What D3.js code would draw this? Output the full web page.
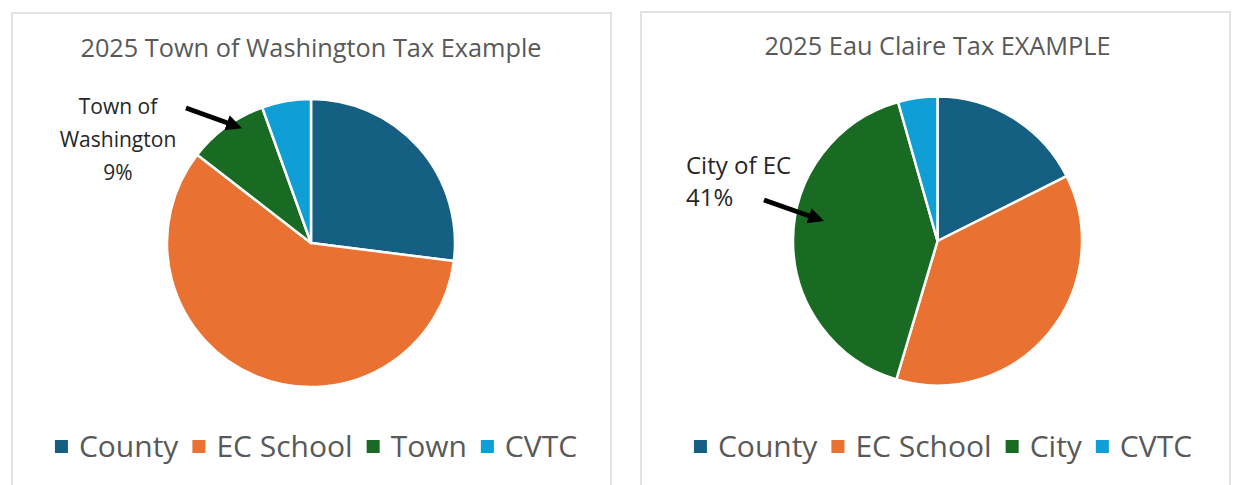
<!DOCTYPE html>
<html>
<head>
<meta charset="utf-8">
<script src="https://cdn.jsdelivr.net/npm/d3@7"></script>
<style>
  html, body { margin: 0; padding: 0; background: #ffffff; }
  svg { display: block; }
  text { font-family: "Open Sans", "Noto Sans", sans-serif; }
</style>
</head>
<body>
<svg id="chart" width="1238" height="485"></svg>
<script>
// Tax share breakdowns (percent of total bill)
const townCategories = ["County", "EC School", "Town", "CVTC"];
const townValues = [27, 58.5, 9, 5.5];

const cityCategories = ["County", "EC School", "City", "CVTC"];
const cityValues = [17.6, 37, 41, 4.4];

const titles = ["2025 Town of Washington Tax Example", "2025 Eau Claire Tax EXAMPLE"];
const calloutNames = [["Town of", "Washington"], ["City of EC"]];
const calloutIndex = [2, 2];

const palette = ["#156082", "#E97132", "#196B24", "#0F9ED5"];

const svg = d3.select("#chart");

const defs = svg.append("defs");
defs.append("marker")
  .attr("id", "arrowhead")
  .attr("viewBox", "0 0 10 10")
  .attr("refX", 6).attr("refY", 5)
  .attr("markerWidth", 3.2).attr("markerHeight", 3.6)
  .attr("orient", "auto")
  .append("path")
  .attr("d", "M0,0 L10,5 L0,10 Z")
  .attr("fill", "#000");

const panels = [
  {
    box: { x: 12, y: 13, w: 599, h: 500 },
    cx: 311, cy: 243, r: 144,
    title: titles[0], titleY: 57,
    cats: townCategories, vals: townValues,
    callout: { names: calloutNames[0], idx: calloutIndex[0], x: 118, y: 114, anchor: "middle",
               size: 21, gap: 33,
               arrow: [[186, 108], [236, 126]] },
    legendCx: 316
  },
  {
    box: { x: 641, y: 12, w: 589, h: 500 },
    cx: 937.5, cy: 241, r: 144.5,
    title: titles[1], titleY: 55,
    cats: cityCategories, vals: cityValues,
    callout: { names: calloutNames[1], idx: calloutIndex[1], x: 686, y: 174, anchor: "start",
               size: 24, gap: 32,
               arrow: [[764, 200], [818, 219]] },
    legendCx: 943
  }
];

const pie = d3.pie().sort(null).value(d => d);

panels.forEach(p => {
  const g = svg.append("g");

  g.append("rect")
    .attr("x", p.box.x).attr("y", p.box.y)
    .attr("width", p.box.w).attr("height", p.box.h)
    .attr("fill", "#ffffff")
    .attr("stroke", "#d9d9d9")
    .attr("stroke-width", 1.5);

  g.append("text")
    .attr("x", p.cx).attr("y", p.titleY)
    .attr("text-anchor", "middle")
    .attr("font-size", 25.3)
    .attr("fill", "#595959")
    .text(p.title);

  const arc = d3.arc().innerRadius(0).outerRadius(p.r);
  const color = d3.scaleOrdinal().domain(p.cats).range(palette);

  g.append("g")
    .attr("transform", `translate(${p.cx},${p.cy})`)
    .selectAll("path")
    .data(pie(p.vals))
    .join("path")
    .attr("d", arc)
    .attr("fill", (d, i) => color(p.cats[i]))
    .attr("stroke", "#ffffff")
    .attr("stroke-width", 2.5)
    .attr("stroke-linejoin", "round");

  // Callout label for the municipal share
  const c = p.callout;
  const lines = c.names.concat([`${Math.round(p.vals[c.idx])}%`]);
  const label = g.append("text")
    .attr("font-size", c.size)
    .attr("fill", "#262626")
    .attr("text-anchor", c.anchor);
  lines.forEach((t, i) => {
    label.append("tspan")
      .attr("x", c.x)
      .attr("y", c.y + i * c.gap)
      .text(t);
  });

  g.append("line")
    .attr("x1", c.arrow[0][0]).attr("y1", c.arrow[0][1])
    .attr("x2", c.arrow[1][0]).attr("y2", c.arrow[1][1])
    .attr("stroke", "#000")
    .attr("stroke-width", 5)
    .attr("marker-end", "url(#arrowhead)");

  // Legend
  const leg = g.append("g");
  const items = leg.selectAll("g")
    .data(p.cats)
    .join("g");
  items.append("rect")
    .attr("width", 13).attr("height", 13)
    .attr("y", 440)
    .attr("fill", d => color(d));
  items.append("text")
    .attr("x", 24)
    .attr("y", 457)
    .attr("font-size", 30)
    .attr("fill", "#595959")
    .text(d => d);

  let x = 0;
  const offsets = [];
  items.each(function () {
    offsets.push(x);
    const w = d3.select(this).select("text").node().getComputedTextLength();
    x += 24 + w + 14;
  });
  const total = x - 14;
  const start = p.legendCx - total / 2;
  items.attr("transform", (d, i) => `translate(${start + offsets[i]},0)`);
});
</script>
</body>
</html>
